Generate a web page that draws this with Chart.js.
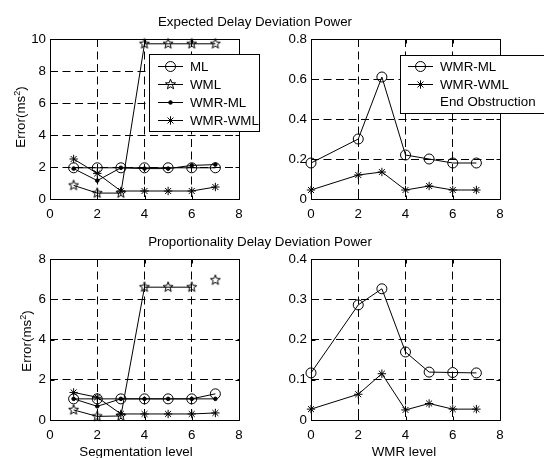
<!DOCTYPE html>
<html><head><meta charset="utf-8">
<script src="https://cdn.jsdelivr.net/npm/chart.js@4/dist/chart.umd.min.js"></script>
<style>
html,body{margin:0;padding:0;background:#fff;}
#wrap{position:relative;width:544px;height:458px;overflow:hidden;background:#fff;font-family:"Liberation Sans",Arial,sans-serif;font-size:13.33px;color:#000}
canvas{position:absolute;left:0;top:0}
.t{position:absolute;white-space:nowrap;transform:translate(-50%,-50%);line-height:1}
.r{transform:translate(-50%,-50%) rotate(-90deg)}
sup{font-size:9px;vertical-align:5px;line-height:0}
</style></head><body>
<div id="wrap">
<canvas id="c1" width="544" height="458"></canvas>
<canvas id="c2" width="544" height="458"></canvas>
<canvas id="c3" width="544" height="458"></canvas>
<canvas id="c4" width="544" height="458"></canvas>
<div class="t" style="left:255px;top:22px">Expected Delay Deviation Power</div>
<div class="t" style="left:260px;top:242px">Proportionality Delay Deviation Power</div>
<div class="t r" style="left:21px;top:117px">Error(ms<sup>2</sup>)</div>
<div class="t r" style="left:27px;top:341px">Error(ms<sup>2</sup>)</div>
<div class="t" style="left:136px;top:452px">Segmentation level</div>
<div class="t" style="left:404px;top:452px">WMR level</div>
</div>
<script>
// ---- data ----
const segLevels = [1, 2, 3, 4, 5, 6, 7];
const wmrLevels = [0, 2, 3, 4, 5, 6, 7];
const xTickVals = [0, 2, 4, 6, 8];

const expML     = [1.95, 1.95, 1.95, 1.95, 1.95, 1.95, 1.95];
const expWML    = [0.85, 0.37, 0.37, 9.7, 9.7, 9.7, 9.7];
const expWMRML  = [1.9, 1.15, 1.95, 1.9, 1.9, 2.1, 2.15];
const expWMRWML = [2.5, 1.6, 0.5, 0.5, 0.5, 0.5, 0.75];
const expWmrML  = [0.18, 0.30, 0.61, 0.22, 0.20, 0.18, 0.18];
const expWmrWML = [0.045, 0.12, 0.135, 0.045, 0.065, 0.045, 0.045];

const propML     = [1.05, 1.05, 1.05, 1.05, 1.05, 1.05, 1.3];
const propWML    = [0.5, 0.18, 0.2, 6.6, 6.6, 6.6, 6.95];
const propWMRML  = [1.05, 0.68, 1.05, 1.05, 1.05, 1.05, 1.05];
const propWMRWML = [1.37, 1.13, 0.3, 0.3, 0.3, 0.3, 0.35];
const propWmrML  = [0.117, 0.286, 0.326, 0.169, 0.119, 0.118, 0.117];
const propWmrWML = [0.027, 0.064, 0.115, 0.025, 0.041, 0.027, 0.027];

const yTicksExpSeg  = [0, 2, 4, 6, 8, 10];
const yTicksExpWmr  = [0, 0.2, 0.4, 0.6, 0.8];
const yTicksPropSeg = [0, 2, 4, 6, 8];
const yTicksPropWmr = [0, 0.1, 0.2, 0.3, 0.4];

// ---- styling ----
const FONT = '"Liberation Sans", Arial, sans-serif';
Chart.defaults.font.family = FONT;
Chart.defaults.font.size = 13.33;
Chart.defaults.color = '#000';

function makePentagram(r) {
  const s = Math.ceil(r * 2) + 3;
  const c = document.createElement('canvas');
  c.width = s; c.height = s;
  const g = c.getContext('2d');
  drawPent(g, s / 2, s / 2, r);
  return c;
}
function drawPent(g, cx, cy, r) {
  g.save();
  g.beginPath();
  for (let i = 0; i < 10; i++) {
    const rr = i % 2 ? r * 0.42 : r;
    const a = -Math.PI / 2 + i * Math.PI / 5;
    g.lineTo(cx + rr * Math.cos(a), cy + rr * Math.sin(a));
  }
  g.closePath();
  g.strokeStyle = '#000'; g.lineWidth = 1; g.stroke();
  g.restore();
}
const PENT = makePentagram(5.3);

const STYLES = {
  circle: { pointStyle: 'circle', pointRadius: 5, pointBackgroundColor: 'rgba(0,0,0,0)' },
  pent:   { pointStyle: PENT, pointRadius: 5 },
  dot:    { pointStyle: 'circle', pointRadius: 1.8, pointBackgroundColor: '#000' },
  star:   { pointStyle: 'star', pointRadius: 4.2, pointBackgroundColor: '#000' }
};

function series(label, xs, ys, marker, extra) {
  return Object.assign({
    label,
    data: xs.map((x, i) => ({ x, y: ys[i] })),
    showLine: true,
    borderColor: '#000',
    borderWidth: 1,
    pointBorderColor: '#000',
    pointBorderWidth: 1,
    tension: 0,
    clip: false
  }, STYLES[marker], extra || {});
}

function legendMarker(ctx, m, x, y) {
  ctx.save();
  ctx.strokeStyle = '#000'; ctx.fillStyle = '#000'; ctx.lineWidth = 1;
  if (m === 'circle') { ctx.beginPath(); ctx.arc(x, y, 5, 0, Math.PI * 2); ctx.stroke(); }
  else if (m === 'dot') { ctx.beginPath(); ctx.arc(x, y, 1.8, 0, Math.PI * 2); ctx.fill(); ctx.stroke(); }
  else if (m === 'pent') { drawPent(ctx, x, y, 5.3); }
  else if (m === 'star') {
    const r = 4.2;
    ctx.beginPath();
    for (let k = 0; k < 4; k++) {
      const a = k * Math.PI / 4;
      ctx.moveTo(x - r * Math.cos(a), y - r * Math.sin(a));
      ctx.lineTo(x + r * Math.cos(a), y + r * Math.sin(a));
    }
    ctx.stroke();
  }
  ctx.restore();
}

const framePlugin = {
  id: 'frame',
  afterDraw(chart, args, opts) {
    const a = chart.chartArea, ctx = chart.ctx;
    ctx.save();
    ctx.setLineDash([]);
    ctx.strokeStyle = '#000'; ctx.lineWidth = 1;
    const L = Math.round(a.left) + 0.5, T = Math.round(a.top) + 0.5;
    const R = Math.round(a.right) + 0.5, B = Math.round(a.bottom) + 0.5;
    ctx.beginPath();
    ctx.rect(L, T, R - L, B - T);
    const tl = 4;
    const xs = chart.scales.x, ys = chart.scales.y;
    xs.ticks.forEach(t => {
      const p = Math.round(xs.getPixelForValue(t.value)) + 0.5;
      ctx.moveTo(p, B); ctx.lineTo(p, B - tl);
      ctx.moveTo(p, T); ctx.lineTo(p, T + tl);
    });
    ys.ticks.forEach(t => {
      const p = Math.round(ys.getPixelForValue(t.value)) + 0.5;
      ctx.moveTo(L, p); ctx.lineTo(L + tl, p);
      ctx.moveTo(R, p); ctx.lineTo(R - tl, p);
    });
    ctx.stroke();

    const lg = opts.legend;
    if (lg) {
      ctx.fillStyle = '#fff';
      ctx.fillRect(lg.box[0], lg.box[1], lg.box[2] - lg.box[0], lg.box[3] - lg.box[1]);
      ctx.strokeRect(lg.box[0] + 0.5, lg.box[1] + 0.5, lg.box[2] - lg.box[0], lg.box[3] - lg.box[1]);
      ctx.font = '13.33px ' + FONT;
      ctx.textBaseline = 'middle';
      ctx.fillStyle = '#000';
      lg.items.forEach((it, i) => {
        const y = lg.rows[i];
        if (it.marker) {
          ctx.beginPath();
          ctx.moveTo(lg.line[0], y + 0.5); ctx.lineTo(lg.line[1], y + 0.5);
          ctx.stroke();
          legendMarker(ctx, it.marker, lg.mx, y + 0.5);
        }
        ctx.fillText(it.label, lg.tx, y + 1);
      });
    }
    ctx.restore();
  }
};

function makeChart(id, rect, xTicks, yTicks, datasets, legend) {
  const [L, T, R, B] = rect;
  const YW = 30, XH = 22;
  return new Chart(document.getElementById(id), {
    type: 'scatter',
    data: { datasets },
    options: {
      responsive: false, animation: false, devicePixelRatio: 1,
      events: [],
      layout: { padding: { left: L - YW, top: T, right: 544 - R, bottom: 458 - B - XH } },
      plugins: { legend: { display: false }, tooltip: { enabled: false }, frame: { legend } },
      scales: {
        x: {
          type: 'linear', min: xTicks[0], max: xTicks[xTicks.length - 1],
          afterFit: s => { s.height = XH; },
          afterBuildTicks: s => { s.ticks = xTicks.map(v => ({ value: v })); },
          ticks: { padding: 7, autoSkip: false, maxRotation: 0, callback: v => String(v) },
          grid: { color: '#000', lineWidth: 1, drawTicks: false },
          border: { display: false, dash: [8, 4.5] }
        },
        y: {
          type: 'linear', min: yTicks[0], max: yTicks[yTicks.length - 1],
          afterFit: s => { s.width = YW; },
          afterBuildTicks: s => { s.ticks = yTicks.map(v => ({ value: v })); },
          ticks: { padding: 4, autoSkip: false, callback: v => String(v) },
          grid: { color: '#000', lineWidth: 1, drawTicks: false },
          border: { display: false, dash: [8, 4.5] }
        }
      }
    },
    plugins: [framePlugin]
  });
}

const legSeg = {
  box: [149, 54, 259, 131],
  rows: [66, 84, 102, 120],
  line: [158, 183], mx: 170.5, tx: 190,
  items: [
    { label: 'ML', marker: 'circle' },
    { label: 'WML', marker: 'pent' },
    { label: 'WMR-ML', marker: 'dot' },
    { label: 'WMR-WML', marker: 'star' }
  ]
};
const legWmr = {
  box: [400, 55, 545, 113],
  rows: [66, 84, 101.5],
  line: [408, 433], mx: 420.5, tx: 440,
  items: [
    { label: 'WMR-ML', marker: 'circle' },
    { label: 'WMR-WML', marker: 'star' },
    { label: 'End Obstruction', marker: null }
  ]
};

makeChart('c1', [50, 39, 239, 199], xTickVals, yTicksExpSeg, [
  series('ML', segLevels, expML, 'circle'),
  series('WML', segLevels, expWML, 'pent'),
  series('WMR-ML', segLevels, expWMRML, 'dot'),
  series('WMR-WML', segLevels, expWMRWML, 'star')
], legSeg);

makeChart('c2', [311, 39, 500, 199], xTickVals, yTicksExpWmr, [
  series('WMR-ML', wmrLevels, expWmrML, 'circle'),
  series('WMR-WML', wmrLevels, expWmrWML, 'star')
], legWmr);

makeChart('c3', [50, 259, 239, 420], xTickVals, yTicksPropSeg, [
  series('ML', segLevels, propML, 'circle'),
  series('WML', segLevels, propWML, 'pent', {
    segment: { borderColor: ctx => ctx.p0DataIndex === 5 ? 'rgba(0,0,0,0)' : '#000' }
  }),
  series('WMR-ML', segLevels, propWMRML, 'dot'),
  series('WMR-WML', segLevels, propWMRWML, 'star')
], null);

makeChart('c4', [311, 259, 500, 420], xTickVals, yTicksPropWmr, [
  series('WMR-ML', wmrLevels, propWmrML, 'circle'),
  series('WMR-WML', wmrLevels, propWmrWML, 'star')
], null);
</script>
</body></html>
